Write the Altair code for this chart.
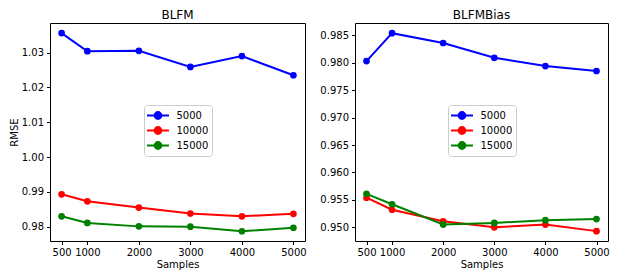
import altair as alt
import pandas as pd

samples = [500, 1000, 2000, 3000, 4000, 5000]
series_names = ["5000", "10000", "15000"]
colors = ["#0000ff", "#ff0000", "#008000"]

blfm_5000 = [1.0356, 1.0304, 1.0305, 1.0259, 1.0290, 1.0235]
blfm_10000 = [0.9893, 0.9873, 0.9855, 0.9838, 0.9830, 0.9837]
blfm_15000 = [0.9830, 0.9811, 0.9801, 0.9800, 0.9787, 0.9797]

bias_5000 = [0.9803, 0.9854, 0.9836, 0.9809, 0.9794, 0.9785]
bias_10000 = [0.9554, 0.9532, 0.9511, 0.9500, 0.9505, 0.9493]
bias_15000 = [0.9561, 0.9542, 0.9505, 0.9508, 0.9513, 0.9515]

blfm_ticks = [0.98, 0.99, 1.00, 1.01, 1.02, 1.03]
bias_ticks = [0.950, 0.955, 0.960, 0.965, 0.970, 0.975, 0.980, 0.985]


def make_df(series_lists):
    rows = []
    for name, vals in zip(series_names, series_lists):
        for s, v in zip(samples, vals):
            rows.append({"Samples": s, "RMSE": v, "series": name})
    return pd.DataFrame(rows)


SYMBOL = "M-1.69,0L1.69,0M-0.52,0A0.52,0.52,0,1,1,0.52,0A0.52,0.52,0,1,1,-0.52,0Z"


def panel(df, title, ydomain, yticks, yfmt, ytitle, width, lx, ly):
    color = alt.Color(
        "series:N",
        scale=alt.Scale(domain=series_names, range=colors),
        sort=series_names,
        legend=alt.Legend(
            title=None,
            orient="none",
            legendX=lx,
            legendY=ly,
            symbolType=SYMBOL,
            symbolSize=169,
            symbolStrokeWidth=2,
            symbolOffset=3.5,
            labelFontSize=10,
            labelFont="DejaVu Sans",
            labelColor="#000000",
            strokeColor="#cccccc",
            fillColor="#ffffff",
            padding=3,
            cornerRadius=3,
            rowPadding=0,
            labelOffset=11,
        ),
    )
    x = alt.X(
        "Samples:Q",
        scale=alt.Scale(domain=[275, 5225], nice=False, zero=False),
        axis=alt.Axis(values=samples, format="d", title="Samples", grid=False),
    )
    y = alt.Y(
        "RMSE:Q",
        scale=alt.Scale(domain=ydomain, nice=False, zero=False),
        axis=alt.Axis(values=yticks, format=yfmt, title=ytitle, grid=False),
    )
    base = alt.Chart(df).encode(x=x, y=y, color=color, detail="series:N")
    lines = base.mark_line(strokeWidth=2)
    pts = base.mark_point(filled=True, size=45, opacity=1)
    return alt.layer(lines, pts).properties(
        width=width, height=218, title=alt.Title(title)
    )


left = panel(make_df([blfm_5000, blfm_10000, blfm_15000]), "BLFM",
             [0.9759, 1.0385], blfm_ticks, ".2f", "RMSE", 255, 94, 82)
right = panel(make_df([bias_5000, bias_10000, bias_15000]), "BLFMBias",
              [0.9475, 0.98725], bias_ticks, ".3f", None, 253, 93, 82)

chart = (
    alt.hconcat(left, right, spacing=12)
    .resolve_scale(color="independent", y="independent")
    .resolve_legend(color="independent")
    .properties(padding={"left": 0, "top": 0, "right": 0, "bottom": 0})
    .configure_view(stroke="#000000", strokeWidth=1)
    .configure_axis(
        labelFont="DejaVu Sans",
        titleFont="DejaVu Sans",
        labelFontSize=10,
        titleFontSize=10,
        labelColor="#000000",
        titleColor="#000000",
        titleFontWeight="normal",
        tickColor="#000000",
        domain=False,
        tickSize=3.5,
        labelPadding=3,
        titlePadding=2,
    )
    .configure_title(font="DejaVu Sans", fontSize=12, fontWeight="normal",
                     color="#000000", offset=1)
)

chart.save("out.html", embed_options={"renderer": "svg", "actions": False})
